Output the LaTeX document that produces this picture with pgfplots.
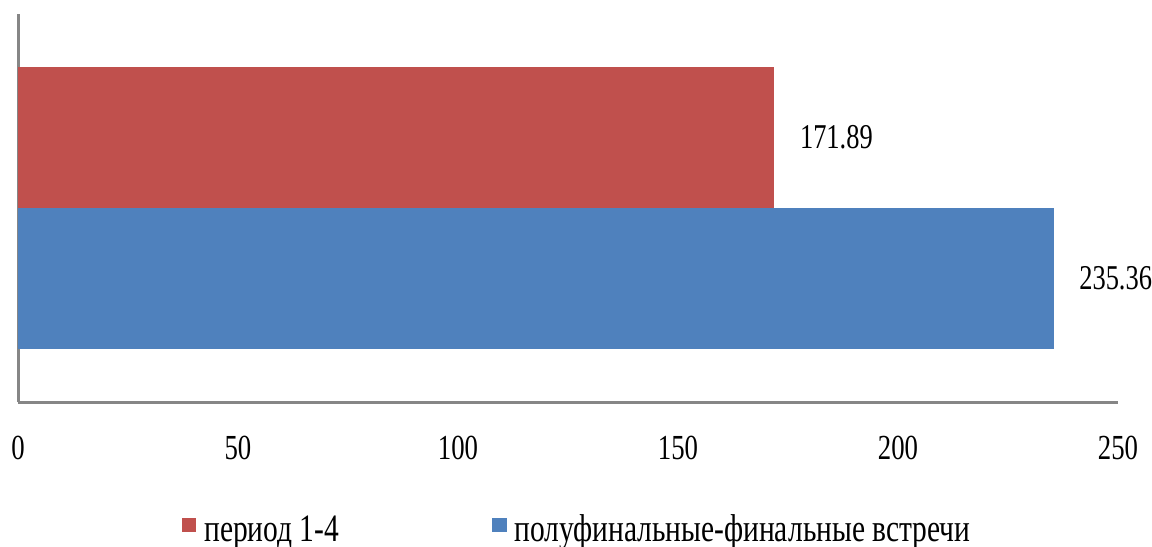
\documentclass[border=0pt]{standalone}
\usepackage{fontspec}
\setmainfont[FakeStretch=0.76]{Liberation Serif}
\usepackage{pgfplots}
\pgfplotsset{compat=1.18}
\definecolor{cred}{HTML}{C0504D}
\definecolor{cblue}{HTML}{4F81BD}
\definecolor{caxis}{HTML}{868686}
\begin{document}
\fontsize{8.8bp}{10bp}\selectfont
\begin{tikzpicture}
\path[use as bounding box] (0,0) rectangle (288bp,136.75bp);
\begin{axis}[
  at={(4.5bp,36.25bp)}, anchor=south west,
  scale only axis, width=275bp, height=97bp,
  xmin=0, xmax=250, ymin=0.124, ymax=2.876,
  axis lines*=left,
  axis line style={caxis, line width=0.75bp},
  xtick={0,50,100,150,200,250},
  ytick=\empty,
  major tick length=0pt,
  /pgf/number format/assume math mode=true,
  xticklabel style={font=\fontsize{8.8bp}{10bp}\selectfont, yshift=-5.3bp},
  xbar, bar width=1, bar shift=0pt,
  nodes near coords,
  nodes near coords style={font=\fontsize{8.7bp}{10bp}\selectfont, anchor=west, xshift=3.3bp, /pgf/number format/.cd, fixed, precision=2, fixed zerofill},
  legend columns=2,
  legend style={at={(0.511,-0.3325)}, anchor=center, draw=none, font=\fontsize{9.7bp}{11bp}\selectfont, /tikz/every even column/.append style={column sep=36.3bp}, inner sep=0pt},
  legend cell align=left,
  area legend,
  legend image code/.code={\fill[#1, draw=none] (0bp,-0.3bp) rectangle (3.6bp,3.3bp);},
]
\addplot[fill=cred, draw=none] coordinates {(171.89,2)};
\addlegendentry{период 1-4}
\addplot[fill=cblue, draw=none] coordinates {(235.36,1)};
\addlegendentry{полуфинальные-финальные встречи}
\end{axis}
\end{tikzpicture}
\end{document}
